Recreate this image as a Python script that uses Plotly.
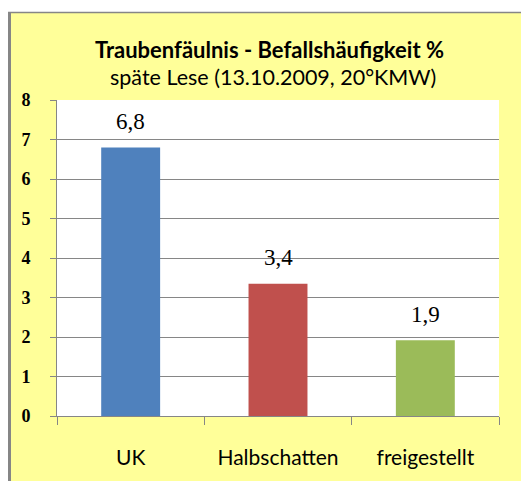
import plotly.graph_objects as go

categories = ["UK", "Halbschatten", "freigestellt"]
values = [6.8, 3.35, 1.92]
value_labels = ["6,8", "3,4", "1,9"]
bar_colors = ["#4F81BD", "#C0504D", "#9BBB59"]
y_ticks = [0, 1, 2, 3, 4, 5, 6, 7, 8]

# page body has an 8px margin, so figure coords = screen coords - 8
W, H = 521, 473
L, R, T, B = 49, 491, 92, 408  # plot area in figure pixels


def px(x):
    return (x - L) / (R - L)


def py(y):
    return (B - y) / (B - T)


fig = go.Figure()
fig.add_trace(go.Bar(
    x=categories, y=values,
    marker=dict(color=bar_colors, line=dict(width=0)),
    width=0.4, hoverinfo="x+y",
))

annotations = [
    dict(x=c, y=v, text=t, xref="x", yref="y", showarrow=False,
         yanchor="middle", yshift=26,
         font=dict(family="Liberation Serif", size=23, color="black"))
    for c, v, t in zip(categories, values, value_labels)
]
annotations += [
    dict(text="<b>Traubenfäulnis - Befallshäufigkeit %</b>", xref="paper", yref="paper",
         x=px(261), y=py(41), showarrow=False, xanchor="center", yanchor="middle",
         font=dict(family="Lato", size=22, color="black")),
    dict(text="späte Lese (13.10.2009, 20°KMW)", xref="paper", yref="paper",
         x=px(265), y=py(69), showarrow=False, xanchor="center", yanchor="middle",
         font=dict(family="Lato", size=21.5, color="black")),
]

fig.update_layout(
    width=W, height=H,
    margin=dict(l=L, r=W - R, t=T, b=H - B),
    paper_bgcolor="#FFFF99", plot_bgcolor="white",
    showlegend=False,
    xaxis=dict(
        showline=True, linecolor="#868686", linewidth=1,
        ticks="outside", tickson="boundaries", ticklen=8, tickcolor="#868686",
        tickfont=dict(family="Lato", size=21, color="black"),
        ticklabelstandoff=23, showgrid=False,
    ),
    yaxis=dict(
        range=[0, 8], tickvals=y_ticks,
        showline=True, linecolor="#868686", linewidth=1,
        ticks="outside", ticklen=6, tickcolor="#868686",
        showgrid=True, gridcolor="#868686", gridwidth=1,
        tickfont=dict(family="Liberation Serif", size=18, color="black", weight="bold"),
        ticklabelstandoff=16, zeroline=False,
    ),
    font=dict(family="Lato", color="black"),
    shapes=[
        dict(type="rect", xref="paper", yref="paper", x0=px(-5), x1=px(W + 5), y0=py(-5), y1=py(4),
             fillcolor="white", line=dict(width=0), layer="above"),
        dict(type="line", xref="paper", yref="paper", x0=px(0), x1=px(W + 5), y0=py(4.5), y1=py(4.5),
             line=dict(color="#868686", width=1.5), layer="above"),
        dict(type="line", xref="paper", yref="paper", x0=px(1.5), x1=px(1.5), y0=py(4), y1=py(H + 5),
             line=dict(color="#868686", width=3), layer="above"),
    ],
    annotations=annotations,
)

fig.write_html("out.html")
